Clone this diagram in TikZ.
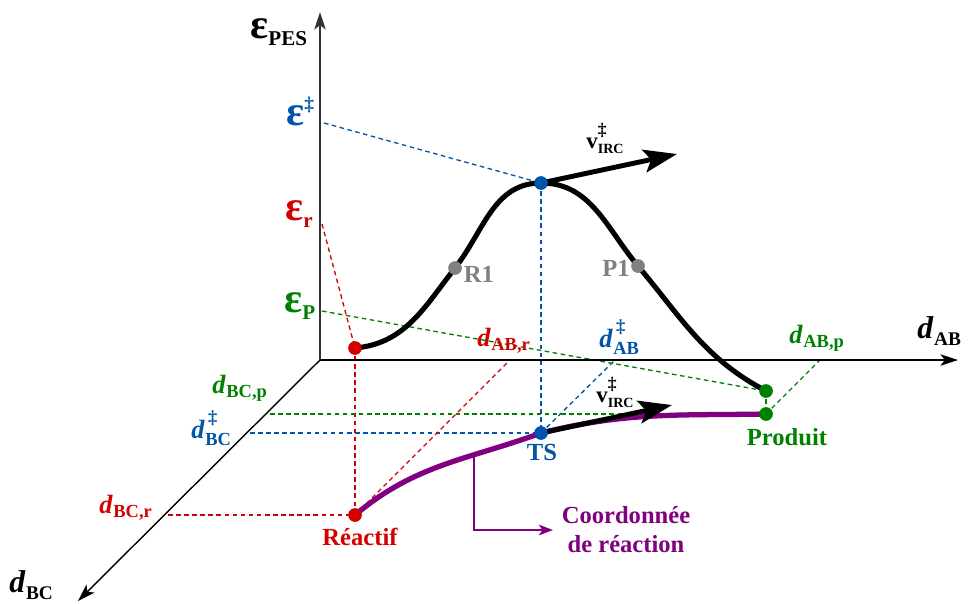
\documentclass[tikz,border=0pt]{standalone}
\usepackage{fontspec}
\usepackage{graphicx}
\setmainfont{Liberation Serif}
\usetikzlibrary{arrows.meta}
\definecolor{cred}{RGB}{210,0,0}
\definecolor{cblue}{RGB}{0,85,170}
\definecolor{cgreen}{RGB}{0,128,0}
\definecolor{cpurple}{RGB}{128,0,128}
\definecolor{cgray}{RGB}{128,128,128}
\newcommand\myfs[1]{\fontsize{#1}{#1}\selectfont}
\newcommand\dlab[1]{{\myfs{15}\textit{d}}\kern0.3pt{\myfs{10.5}\raisebox{-2.5pt}{#1}}}
\newcommand\dlabd[1]{{\myfs{15}\textit{d}}\kern0.3pt{\myfs{10.5}\rlap{\raisebox{8pt}{\kern1.5pt\myfs{10.5}‡}}\raisebox{-4pt}{#1}}}
\newcommand\dax[1]{{\myfs{18}\textit{d}}\kern0.3pt{\myfs{11}\raisebox{-4pt}{#1}}}
\newcommand\elab[1]{{\myfs{24}ε}{\myfs{12}\raisebox{-4pt}{#1}}}
\newcommand\vlab{{\myfs{13}v}{\myfs{8}\rlap{\raisebox{7pt}{\myfs{10}‡}}\raisebox{-3pt}{IRC}}}
\begin{document}
\begin{tikzpicture}[x=0.02cm,y=0.02cm]
\tikzset{
 pdot/.style={circle,inner sep=0pt,minimum size=0.26cm},
 lbl/.style={inner sep=0pt,font=\bfseries},
 bl/.style={lbl,anchor=base west},
 dsh/.style={line width=0.75pt,dash pattern=on 2.6pt off 2pt},
 axisline/.style={line width=0.8pt,-{Stealth[length=10pt,width=6.5pt,inset=2.5pt]}},
 pes/.style={line width=2.9pt,line cap=round},
 ircarrow/.style={line width=2.8pt,-{Stealth[length=19pt,width=13pt,inset=4pt]}},
}
\useasboundingbox (0,0) rectangle (969,-603);
% axis points
\coordinate (O) at (320,-360);
\coordinate (Ytop) at (320,-12);
\coordinate (Xend) at (958,-360);
\coordinate (Zend) at (78,-601);
\coordinate (eTS) at (324,-123);
\coordinate (eR) at (322,-224);
\coordinate (eP) at (322,-311);
\coordinate (bcP) at (270,-414);
\coordinate (bcT) at (250,-433);
\coordinate (bcR) at (168,-515);
\coordinate (abR) at (510,-360);
\coordinate (abT) at (615,-360);
\coordinate (abP) at (820,-360);
% points
\node[pdot,fill=cred] (Rt) at (355,-348) {};
\node[pdot,fill=cred] (Rb) at (355,-515) {};
\node[pdot,fill=cblue] (Tt) at (541,-183) {};
\node[pdot,fill=cblue] (Tb) at (541,-433) {};
\node[pdot,fill=cgreen] (Pt) at (766,-391) {};
\node[pdot,fill=cgreen] (Pb) at (766,-414) {};
\node[pdot,fill=cgray] (R1) at (455,-268) {};
\node[pdot,fill=cgray] (P1) at (638,-266) {};
\coordinate (vtop) at (677,-154);
\coordinate (vbot) at (672,-405);
\coordinate (annS) at (474,-457);
\coordinate (annE) at (553,-530);
% dashed guides
\draw[dsh,cblue] (eTS) -- (Tt.center);
\draw[dsh,cblue] (Tt.center) -- (Tb.center);
\draw[dsh,cblue] (bcT) -- (Tb.center);
\draw[dsh,cblue] (Tb.center) -- (abT);
\draw[dsh,cred] (eR) -- (Rt.center);
\draw[dsh,cred] (Rt.center) -- (Rb.center);
\draw[dsh,cred] (bcR) -- (Rb.center);
\draw[dsh,cred] (Rb.center) -- (abR);
\draw[dsh,cgreen] (eP) -- (Pt.center);
\draw[dsh,cgreen] (Pt.center) -- (Pb.center);
\draw[dsh,cgreen] (bcP) -- (Pb.center);
\draw[dsh,cgreen] (Pb.center) -- (abP);
% axes
\draw[axisline,draw=black!80] (O) -- (Ytop);
\draw[axisline] (O) -- (Xend);
\draw[axisline] (O) -- (Zend);
% curves
\draw[pes] (Rt.center) to[out=5,in=232] (R1.center) to[out=52,in=180] (Tt.center)
  to[out=0,in=130] (P1.center) to[out=-50,in=152] (Pt.center);
\draw[cpurple,line width=3pt] (Rb.center) to[out=40,in=200] (Tb.center) to[out=14,in=181] (Pb.center);
\draw[ircarrow] (Tt.center) -- (vtop);
\draw[ircarrow] (Tb.center) -- (vbot);
\draw[cpurple,line width=1.2pt,-{Stealth[length=8pt,width=6pt,inset=2pt]}] (annS) |- (annE);
% dots on top
\foreach \n/\c in {Rt/cred,Rb/cred,Tt/cblue,Tb/cblue,Pt/cgreen,Pb/cgreen,R1/cgray,P1/cgray}
  \fill[\c] (\n) circle (6.8);
% labels
\node[bl] (lpes) at (250,-38) {\elab{PES}};
\node[bl] (lab) at (917,-338) {\dax{AB}};
\node[bl] (lbc) at (9,-592) {\dax{BC}};
\node[bl,text=cblue] (lets) at (286,-125) {{\myfs{24}ε}\raisebox{8pt}{\myfs{11}‡}};
\node[bl,text=cred] (ler) at (285,-220) {\elab{r}};
\node[bl,text=cgreen] (lep) at (284,-312) {\elab{P}};
\node[bl,text=cred] (labr) at (477,-346) {\dlab{AB,r}};
\node[bl,text=cblue] (labt) at (599,-347) {\dlabd{AB}};
\node[bl,text=cgreen] (labp) at (789,-343) {\dlab{AB,p}};
\node[bl,text=cgreen] (lbcp) at (212,-393) {\dlab{BC,p}};
\node[bl,text=cblue] (lbct) at (191,-438) {\dlabd{BC}};
\node[bl,text=cred] (lbcr) at (99,-513) {\dlab{BC,r}};
\node[bl] (lvtop) at (586,-148) {\vlab};
\node[bl] (lvbot) at (596,-402) {\vlab};
\node[lbl,text=cgray,font=\bfseries\myfs{14}] (tr1) at (479,-274) {R1};
\node[lbl,text=cgray,font=\bfseries\myfs{14}] (tp1) at (616,-268) {P1};
\node[lbl,text=cred,font=\bfseries\myfs{14}] (treac) at (360,-537) {Réactif};
\node[lbl,text=cblue,font=\bfseries\myfs{14}] (tts) at (542,-452) {TS};
\node[lbl,text=cgreen,font=\bfseries\myfs{14}] (tprod) at (787,-437) {Produit};
\node[lbl,text=cpurple,font=\bfseries\fontsize{14}{16.5}\selectfont,align=center] (tcoord) at (626,-530) {Coordonnée\\de réaction};
\end{tikzpicture}
\end{document}
